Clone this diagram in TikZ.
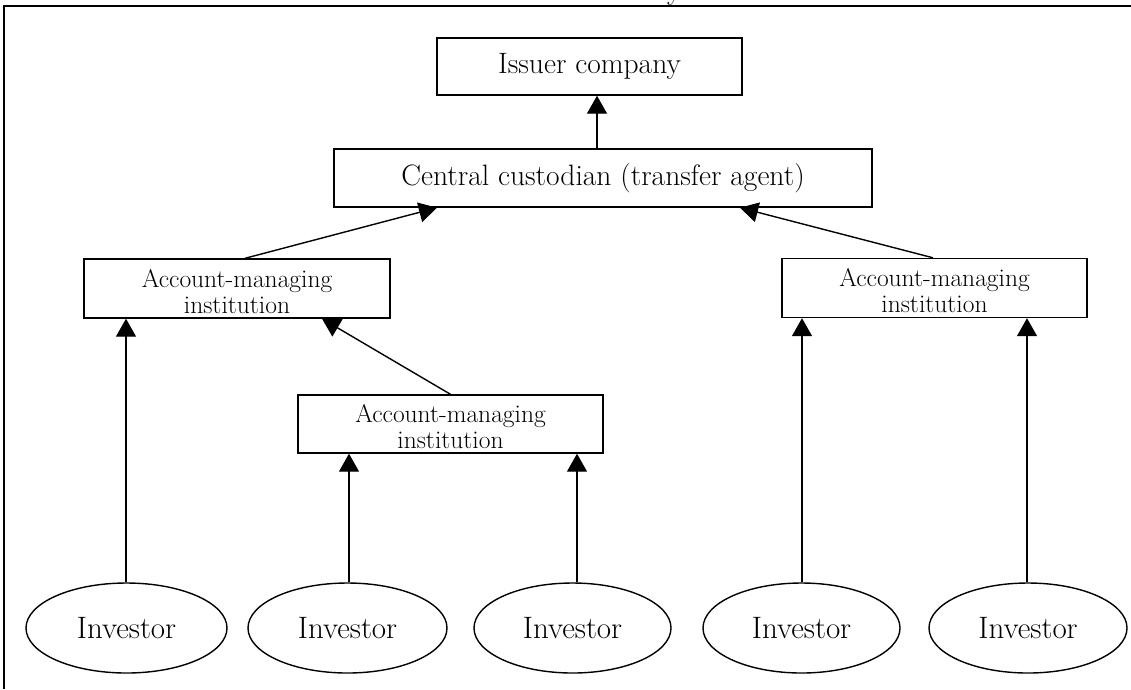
\documentclass[tikz,border=0pt]{standalone}
\usetikzlibrary{arrows.meta,shapes.geometric}
\begin{document}
\begin{tikzpicture}[x=1pt,y=-1pt,
  box/.style={draw,line width=1.4pt,rectangle,inner sep=0pt,font=\fontsize{29.5}{35}\selectfont},
  amibox/.style={draw,line width=1.4pt,rectangle,inner sep=0pt,minimum width=306pt,minimum height=59pt},
  amitext/.style={inner sep=0pt,align=center,font=\fontsize{25.5}{26}\selectfont},
  inv/.style={draw,line width=1.4pt,ellipse,inner sep=0pt,minimum width=200pt,minimum height=90pt,font=\fontsize{31}{36}\selectfont},
  arr/.style={line width=1.4pt,-{Triangle[length=18pt,width=20pt]}}]
\useasboundingbox (0,0) rectangle (1131,689);
% frame
\draw[line width=2pt] (4,689) -- (4,6) -- (1131,6);
\begin{scope}
\clip (0,0) rectangle (1131,6);
\node[anchor=base west,inner sep=0pt,font=\fontsize{29.5}{35}\selectfont] (cap) at (667,-1) {y};
\end{scope}
% nodes
\node[box,minimum width=305pt,minimum height=57pt] (iss) at (589.5,66.5) {Issuer company};
\node[box,minimum width=538pt,minimum height=58pt] (cc) at (603,178) {Central custodian (transfer agent)};
\node[amibox] (a1) at (237,288.5) {};
\node[amitext] (a1t) at ([yshift=-3pt]a1.center) {Account-managing\\institution};
\node[amibox,minimum width=305pt] (a3) at (934.5,288) {};
\node[amitext] (a3t) at ([yshift=-3pt]a3.center) {Account-managing\\institution};
\node[amibox,minimum width=305pt,minimum height=58pt] (a2) at (450.5,424) {};
\node[amitext] (a2t) at ([yshift=-3pt]a2.center) {Account-managing\\institution};
\node[inv,minimum width=201pt] (i1) at (126.5,628) {Investor};
\node[inv,minimum width=199pt] (i2) at (347.5,628) {Investor};
\node[inv,minimum width=197pt] (i3) at (572.5,628) {Investor};
\node[inv,minimum width=197pt] (i4) at (801.5,628) {Investor};
\node[inv,minimum width=198pt] (i5) at (1028,628) {Investor};
% connectors
\draw[arr] ([xshift=-6]cc.north) -- ([xshift=-6]cc.north |- iss.south);
\draw[arr] ([xshift=8]a1.north) -- ([xshift=-166]cc.south);
\draw[arr] ([xshift=-1.5]a3.north) -- ([xshift=137]cc.south);
\draw[arr] (a2.north) -- ([xshift=85]a1.south);
\draw[arr] ([xshift=-0.5]i1.north) -- ([xshift=-0.5]i1.north |- a1.south);
\draw[arr] ([xshift=1.5]i2.north) -- ([xshift=1.5]i2.north |- a2.south);
\draw[arr] ([xshift=4.5]i3.north) -- ([xshift=4.5]i3.north |- a2.south);
\draw[arr] ([xshift=0.5]i4.north) -- ([xshift=0.5]i4.north |- a3.south);
\draw[arr] ([xshift=-1]i5.north) -- ([xshift=-1]i5.north |- a3.south);
\end{tikzpicture}
\end{document}
